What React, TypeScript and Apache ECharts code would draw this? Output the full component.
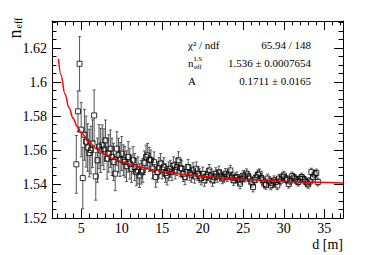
import React, { useEffect, useRef } from 'react';
import * as echarts from 'echarts';

// distance d [m] of each measured point
const dist = [
  4.4, 4.6, 4.8, 5, 5.2, 5.4, 5.6, 5.8, 6, 6.2,
  6.4, 6.6, 6.8, 7, 7.2, 7.4, 7.6, 7.8, 8, 8.2,
  8.4, 8.6, 8.8, 9, 9.2, 9.4, 9.6, 9.8, 10, 10.2,
  10.4, 10.6, 10.8, 11, 11.2, 11.4, 11.6, 11.8, 12, 12.2,
  12.4, 12.6, 12.8, 13, 13.2, 13.4, 13.6, 13.8, 14, 14.2,
  14.4, 14.6, 14.8, 15, 15.2, 15.4, 15.6, 15.8, 16, 16.2,
  16.4, 16.6, 16.8, 17, 17.2, 17.4, 17.6, 17.8, 18, 18.2,
  18.4, 18.6, 18.8, 19, 19.2, 19.4, 19.6, 19.8, 20, 20.2,
  20.4, 20.6, 20.8, 21, 21.2, 21.4, 21.6, 21.8, 22, 22.2,
  22.4, 22.6, 22.8, 23, 23.2, 23.4, 23.6, 23.8, 24, 24.2,
  24.4, 24.6, 24.8, 25, 25.2, 25.4, 25.6, 25.8, 26, 26.2,
  26.4, 26.6, 26.8, 27, 27.2, 27.4, 27.6, 27.8, 28, 28.2,
  28.4, 28.6, 28.8, 29, 29.2, 29.4, 29.6, 29.8, 30, 30.2,
  30.4, 30.6, 30.8, 31, 31.2, 31.4, 31.6, 31.8, 32, 32.2,
  32.4, 32.6, 32.8, 33, 33.2, 33.4, 33.6, 33.8, 34, 34.2,
];

// measured n_eff
const nEff = [
  1.5516, 1.5828, 1.6108, 1.5720, 1.5435, 1.5690, 1.5650, 1.5615, 1.5582, 1.5600,
  1.5638, 1.5804, 1.5445, 1.5540, 1.5620, 1.5598, 1.5628, 1.5605, 1.5657, 1.5549,
  1.5580, 1.5608, 1.5560, 1.5530, 1.5461, 1.5608, 1.5570, 1.5545, 1.5579, 1.5540,
  1.5530, 1.5505, 1.5560, 1.5520, 1.5490, 1.5540, 1.5500, 1.5470, 1.5480, 1.5450,
  1.5470, 1.5480, 1.5525, 1.5559, 1.5569, 1.5545, 1.5540, 1.5491, 1.5529, 1.5441,
  1.5470, 1.5495, 1.5520, 1.5485, 1.5500, 1.5465, 1.5450, 1.5475, 1.5490, 1.5470,
  1.5510, 1.5480, 1.5500, 1.5540, 1.5495, 1.5490, 1.5460, 1.5441, 1.5470, 1.5500,
  1.5465, 1.5455, 1.5480, 1.5445, 1.5490, 1.5460, 1.5450, 1.5435, 1.5460, 1.5422,
  1.5441, 1.5455, 1.5480, 1.5450, 1.5422, 1.5440, 1.5461, 1.5445, 1.5470, 1.5450,
  1.5432, 1.5440, 1.5461, 1.5445, 1.5455, 1.5480, 1.5440, 1.5422, 1.5435, 1.5441,
  1.5425, 1.5402, 1.5430, 1.5450, 1.5440, 1.5461, 1.5445, 1.5432, 1.5410, 1.5382,
  1.5422, 1.5440, 1.5455, 1.5461, 1.5435, 1.5422, 1.5402, 1.5395, 1.5432, 1.5415,
  1.5392, 1.5405, 1.5422, 1.5412, 1.5392, 1.5432, 1.5420, 1.5440, 1.5450, 1.5432,
  1.5425, 1.5400, 1.5420, 1.5446, 1.5438, 1.5432, 1.5420, 1.5412, 1.5430, 1.5441,
  1.5430, 1.5422, 1.5410, 1.5398, 1.5415, 1.5470, 1.5440, 1.5457, 1.5465, 1.5412,
];

// error of each n_eff
const nErr = [
  0.017, 0.012, 0.016, 0.016, 0.018, 0.015, 0.015, 0.014, 0.014, 0.014,
  0.014, 0.015, 0.014, 0.013, 0.013, 0.013, 0.012, 0.012, 0.012, 0.012,
  0.011, 0.011, 0.011, 0.011, 0.010, 0.010, 0.010, 0.010, 0.010, 0.009,
  0.009, 0.009, 0.009, 0.009, 0.008, 0.008, 0.008, 0.008, 0.008, 0.007,
  0.007, 0.007, 0.007, 0.007, 0.007, 0.007, 0.006, 0.006, 0.006, 0.006,
  0.006, 0.006, 0.006, 0.0055, 0.0055, 0.0055, 0.0055, 0.0055, 0.005, 0.005,
  0.005, 0.005, 0.005, 0.005, 0.005, 0.005, 0.0045, 0.0045, 0.0045, 0.0045,
  0.0045, 0.0045, 0.0045, 0.004, 0.004, 0.004, 0.004, 0.004, 0.004, 0.0035,
  0.0035, 0.0035, 0.0035, 0.0035, 0.0035, 0.0035, 0.0035, 0.0035, 0.0035, 0.003,
  0.003, 0.003, 0.003, 0.003, 0.003, 0.003, 0.003, 0.003, 0.003, 0.003,
  0.003, 0.003, 0.003, 0.003, 0.0028, 0.0028, 0.0028, 0.0028, 0.0028, 0.0028,
  0.0028, 0.0028, 0.0028, 0.0028, 0.0026, 0.0026, 0.0026, 0.0026, 0.0026, 0.0026,
  0.0026, 0.0026, 0.0026, 0.0025, 0.0025, 0.0025, 0.0025, 0.0025, 0.0025, 0.0024,
  0.0024, 0.0024, 0.0024, 0.0024, 0.0024, 0.0024, 0.0024, 0.0024, 0.0023, 0.0023,
  0.0023, 0.0023, 0.0023, 0.0023, 0.0023, 0.0023, 0.0023, 0.0023, 0.0023, 0.0023,
];

// fitted curve
const fitD = [2.2, 2.5, 3, 3.5, 4, 4.5, 5, 6, 7, 8, 9, 10, 12, 14, 16, 18, 20, 23, 26, 30, 34, 37.3];
const fitN = [1.6138, 1.6044, 1.5930, 1.5849, 1.5788, 1.5740, 1.5702, 1.5645, 1.5604, 1.5574, 1.5550, 1.5531,
  1.5503, 1.5482, 1.5467, 1.5455, 1.5446, 1.5434, 1.5426, 1.5417, 1.5410, 1.5406];

// axis ticks
const xTicks = [5, 10, 15, 20, 25, 30, 35];
const xMinor = [2, 3, 4, 6, 7, 8, 9, 11, 12, 13, 14, 16, 17, 18, 19, 21, 22, 23, 24, 26, 27, 28, 29, 31, 32, 33, 34, 36, 37];
const yTicks = [1.52, 1.54, 1.56, 1.58, 1.6, 1.62];
const yMinor = [1.525, 1.53, 1.535, 1.545, 1.55, 1.555, 1.565, 1.57, 1.575, 1.585, 1.59, 1.595, 1.605, 1.61, 1.615, 1.625, 1.63, 1.635];

// fit statistics
const statLabels = ['χ² / ndf', '', 'A'];
const statValues = ['65.94 / 148', '1.536 ± 0.0007654', '0.1711 ± 0.0165'];

const FONT = "'Liberation Serif', 'Times New Roman', serif";

export default function App() {
  const ref = useRef<HTMLDivElement>(null);
  useEffect(() => {
    const chart = echarts.init(ref.current!, null, { renderer: 'svg' });
    const X_MIN = 1.4, X_MAX = 37.3, Y_MIN = 1.52, Y_MAX = 1.636;
    const pts = dist.map((d, i) => [d, nEff[i], nErr[i]]);
    const fit = fitD.map((d, i) => [d, fitN[i]]);

    const mkX = (position: string, ticks: number[], len: number, line: boolean, labels: boolean) => ({
      type: 'value', min: X_MIN, max: X_MAX, position,
      splitLine: { show: false },
      axisLine: { show: line, onZero: false, lineStyle: { color: '#000', width: 1 } },
      axisTick: { show: true, inside: true, length: len, customValues: ticks, lineStyle: { color: '#000', width: 1 } },
      axisLabel: labels
        ? { show: true, customValues: ticks, margin: 3, color: '#000', fontFamily: FONT, fontSize: 14 }
        : { show: false },
    });
    const mkY = (position: string, ticks: number[], len: number, line: boolean, labels: boolean) => ({
      type: 'value', min: Y_MIN, max: Y_MAX, position,
      splitLine: { show: false },
      axisLine: { show: line, onZero: false, lineStyle: { color: '#000', width: 1 } },
      axisTick: { show: true, inside: true, length: len, customValues: ticks, lineStyle: { color: '#000', width: 1 } },
      axisLabel: labels
        ? { show: true, customValues: ticks, margin: 5, color: '#000', fontFamily: FONT, fontSize: 14,
            formatter: (v: number) => String(+v.toFixed(3)) }
        : { show: false },
    });

    const txt = (x: number, y: number, text: string, size: number, align: string, extra: any = {}) => ({
      type: 'text', x, y, ...extra,
      style: { text, fontFamily: FONT, fontSize: size, fill: '#000', align, textAlign: align,
        verticalAlign: 'middle', textVerticalAlign: 'middle' },
    });

    chart.setOption({
      animation: false,
      backgroundColor: '#fff',
      grid: { left: 52, right: 31, top: 21, bottom: 37 },
      xAxis: [
        mkX('bottom', xTicks, 9, true, true),
        mkX('bottom', xMinor, 4.5, false, false),
        mkX('top', xTicks, 9, true, false),
        mkX('top', xMinor, 4.5, false, false),
      ],
      yAxis: [
        mkY('left', yTicks, 9, true, true),
        mkY('left', yMinor, 4.5, false, false),
        mkY('right', yTicks, 9, true, false),
        mkY('right', yMinor, 4.5, false, false),
      ],
      series: [
        {
          type: 'custom', xAxisIndex: 0, yAxisIndex: 0, z: 2,
          data: pts,
          encode: { x: 0, y: 1 },
          renderItem: (params: any, api: any) => {
            const x = api.value(0), y = api.value(1), e = api.value(2);
            const c = api.coord([x, y]);
            const t = api.coord([x, y + e]);
            const b = api.coord([x, y - e]);
            const h = 2.5, cap = 1.5;
            const style = { stroke: '#555', lineWidth: 1 };
            const children: any[] = [];
            if (c[1] - h > t[1]) children.push({ type: 'line', shape: { x1: c[0], y1: c[1] - h, x2: c[0], y2: t[1] }, style });
            if (b[1] > c[1] + h) children.push({ type: 'line', shape: { x1: c[0], y1: c[1] + h, x2: c[0], y2: b[1] }, style });
            children.push({ type: 'line', shape: { x1: c[0] - cap, y1: t[1], x2: c[0] + cap, y2: t[1] }, style });
            children.push({ type: 'line', shape: { x1: c[0] - cap, y1: b[1], x2: c[0] + cap, y2: b[1] }, style });
            return { type: 'group', children };
          },
        },
        {
          type: 'scatter', xAxisIndex: 0, yAxisIndex: 0, z: 3,
          data: pts.map((p) => [p[0], p[1]]),
          symbol: 'rect', symbolSize: 5,
          itemStyle: { color: 'rgba(0,0,0,0)', borderColor: '#000', borderWidth: 1 },
        },
        {
          type: 'line', xAxisIndex: 0, yAxisIndex: 0, z: 4,
          data: fit, smooth: 0.4, smoothMonotone: 'x', symbol: 'none',
          lineStyle: { color: '#ff0000', width: 1.5 },
        },
      ],
      graphic: [
        txt(343, 244.5, 'd [m]', 14, 'right'),
        txt(15, 38.5, 'n', 18, 'left', { rotation: Math.PI / 2 }),
        txt(18.5, 28.5, 'eff', 10, 'left', { rotation: Math.PI / 2 }),
        txt(188, 45, statLabels[0], 11, 'left'),
        txt(188, 63, 'n', 11, 'left'),
        txt(194, 59, 'LS', 7, 'left'),
        txt(194, 66.5, 'eff', 7, 'left'),
        txt(188, 81, statLabels[2], 11, 'left'),
        txt(311, 45, statValues[0], 11, 'right'),
        txt(311, 63, statValues[1], 11, 'right'),
        txt(311, 81, statValues[2], 11, 'right'),
      ],
    });
    return () => chart.dispose();
  }, []);
  return <div ref={ref} style={{ position: 'fixed', left: 0, top: 0, width: 374, height: 255, background: '#fff' }} />;
}
